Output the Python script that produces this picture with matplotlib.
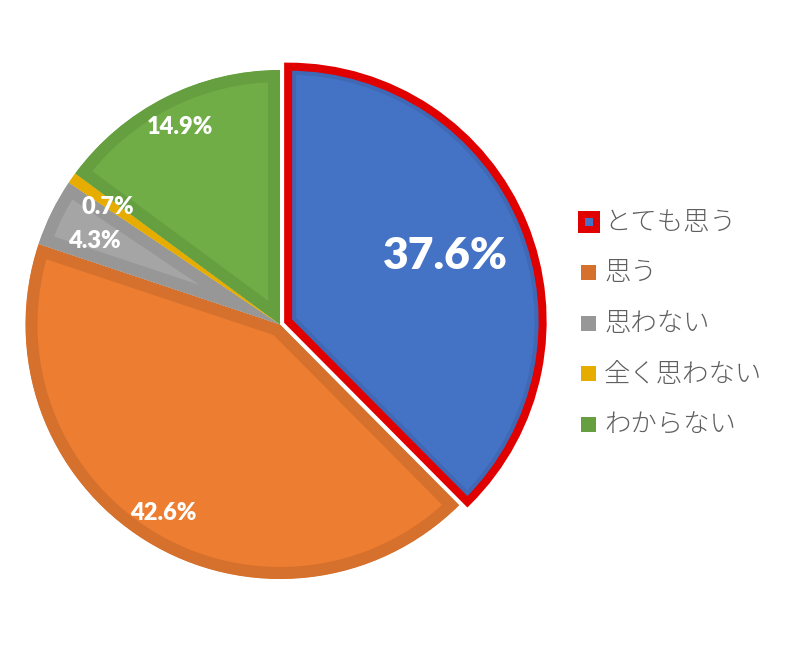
import numpy as np
import matplotlib.pyplot as plt
from matplotlib.patches import Rectangle, Wedge

labels = ["とても思う", "思う", "思わない", "全く思わない", "わからない"]
values = [37.6, 42.6, 4.3, 0.7, 14.9]
face_colors = ["#4472C4", "#ED7D31", "#A5A5A5", "#FFC000", "#70AD47"]
edge_colors = ["#3F68B5", "#D5712D", "#979797", "#E6AC00", "#659F3F"]
label_dist = [0.67, 0.87, 0.80, 0.82, 0.87]
label_size = [32, 17, 17, 17, 17]
label_shift = [0, 0, 2.0, 0.8, 0]  # degrees, Excel nudges the small ones

W, H = 785, 650
px = 72.0 / 100  # pixel -> point

fig = plt.figure(figsize=(W / 100, H / 100), dpi=100)
ax = fig.add_axes([0, 0, 1, 1])

cx, cy, R = 280, 650 - 324.5, 254.5
explode = [8.8, 0, 0, 0, 0]  # pixels (data units)

wedges, _ = ax.pie(values, colors=face_colors, startangle=90, counterclock=False,
                   center=(cx, cy), radius=R, explode=explode, normalize=True,
                   wedgeprops=dict(linewidth=0), frame=True)
ax.set_xlim(0, W)
ax.set_ylim(0, H)
ax.axis("off")

for i, w in enumerate(wedges):
    # darker inner band: stroke clipped to the wedge itself
    band = 12 if i else 8
    w.set_edgecolor(edge_colors[i])
    w.set_linewidth(2 * band * px)
    w.set_joinstyle("miter")
    w.set_clip_path(w)
    w.set_clip_on(True)

# red outline on the highlighted slice
b = wedges[0]
outline = Wedge(b.center, b.r, b.theta1, b.theta2, facecolor="none",
                edgecolor="#E00000", linewidth=8 * px, joinstyle="miter", zorder=3)
ax.add_patch(outline)

for i, w in enumerate(wedges):
    ang = np.deg2rad((w.theta1 + w.theta2) / 2 + label_shift[i])
    x0, y0 = w.center
    r = label_dist[i] * R
    ax.text(x0 + r * np.cos(ang), y0 + r * np.sin(ang), "%.1f%%" % values[i],
            color="white", fontsize=label_size[i], fontweight="heavy",
            family=["Lato", "DejaVu Sans"], ha="center", va="center", zorder=5)

# legend
ly0, dy = 650 - 222, 50.5
for i, lab in enumerate(labels):
    y = ly0 - i * dy
    if i == 0:
        ax.add_patch(Rectangle((578, y - 11), 22, 22, facecolor="#E00000", edgecolor="none"))
        ax.add_patch(Rectangle((585, y - 4), 8, 8, facecolor=face_colors[0], edgecolor="none"))
    else:
        ax.add_patch(Rectangle((581, y - 7.5), 15, 15, facecolor=edge_colors[i], edgecolor="none"))
    ax.text(604, y, lab, color="#5f5f5f", fontsize=19, fontweight="light",
            family=["Noto Sans CJK JP", "DejaVu Sans"], ha="left", va="center")

fig.savefig("out.png", dpi=100)
